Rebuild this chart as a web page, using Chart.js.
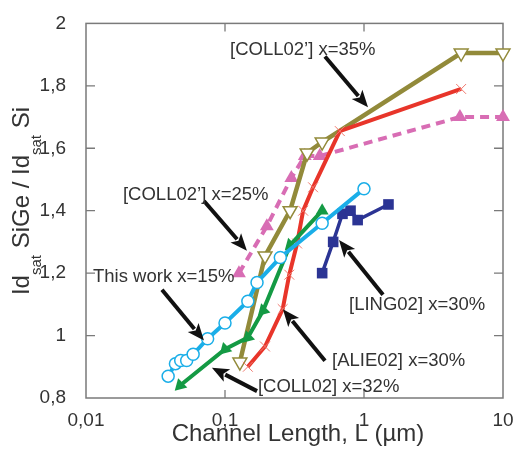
<!DOCTYPE html>
<html>
<head>
<meta charset="utf-8">
<script src="https://cdn.jsdelivr.net/npm/chart.js@4.4.1/dist/chart.umd.min.js"></script>
<style>
  body { margin: 0; background: #fff; }
  #wrap { width: 520px; height: 450px; }
</style>
</head>
<body>
<div id="wrap"><canvas id="chart" width="520" height="450"></canvas></div>
<script>
// ---- data (L in µm, ratio Idsat SiGe / Idsat Si) ----
const xTicks = [0.01, 0.1, 1, 10];
const xTickLabels = ['0,01', '0,1', '1', '10'];
const yTicks = [0.8, 1, 1.2, 1.4, 1.6, 1.8, 2];

const thisWorkL = [0.039, 0.044, 0.048, 0.053, 0.059, 0.075, 0.10, 0.146, 0.17, 0.25, 0.5, 1.0];
const thisWorkR = [0.87, 0.91, 0.92, 0.92, 0.94, 0.99, 1.04, 1.11, 1.17, 1.25, 1.36, 1.47];

const ling02L = [0.5, 0.6, 0.7, 0.8, 0.9, 1.5];
const ling02R = [1.20, 1.30, 1.39, 1.40, 1.37, 1.42];

const coll02L = [0.0475, 0.10, 0.146, 0.188, 0.294, 0.5];
const coll02R = [0.84, 0.956, 0.994, 1.08, 1.29, 1.40];

const alie02L = [0.146, 0.194, 0.26, 0.29, 0.33, 0.365, 0.43, 0.67, 5.0];
const alie02R = [0.90, 0.965, 1.085, 1.195, 1.295, 1.40, 1.475, 1.655, 1.79];

const coll35L = [0.128, 0.194, 0.294, 0.39, 0.5, 5.0, 10];
const coll35R = [0.915, 1.255, 1.40, 1.585, 1.62, 1.905, 1.905];

const coll25L = [0.126, 0.20, 0.30, 0.375, 0.48, 4.9, 10];
const coll25R = [1.20, 1.35, 1.505, 1.575, 1.575, 1.70, 1.70];

// labels: text, left x (L), baseline y (ratio)
const labelText = ["[COLL02’] x=35%", "[COLL02’] x=25%", "This work x=15%", "[COLL02] x=32%", "[ALIE02] x=30%", "[LING02] x=30%"];
const labelL = [0.1087, 0.01845, 0.01123, 0.1726, 0.589, 0.780];
const labelR = [1.90, 1.434, 1.172, 0.819, 0.903, 1.081];

// arrows: tail -> tip, in data units
const arrowFromL = [0.524, 0.0706, 0.0352, 0.170, 0.524, 1.37];
const arrowFromR = [1.894, 1.431, 1.147, 0.822, 0.919, 1.131];
const arrowToL = [1.069, 0.1438, 0.0706, 0.0805, 0.261, 0.661];
const arrowToR = [1.731, 1.272, 0.984, 0.897, 1.084, 1.306];

const FONT = "'Liberation Sans', Arial, Helvetica, sans-serif";
const TEXT_COLOR = '#333';

function pts(xs, ys) {
  return xs.map((x, i) => ({x: x, y: ys[i]}));
}

function fmt(v) {
  return String(+v.toFixed(2)).replace('.', ',');
}

function drawArrow(ctx, x1, y1, x2, y2) {
  const a = Math.atan2(y2 - y1, x2 - x1);
  const head = 17, half = 7;
  const bx = x2 - head * Math.cos(a), by = y2 - head * Math.sin(a);
  ctx.beginPath();
  ctx.moveTo(x1, y1);
  ctx.lineTo(bx + 2 * Math.cos(a), by + 2 * Math.sin(a));
  ctx.stroke();
  ctx.beginPath();
  ctx.moveTo(x2, y2);
  ctx.lineTo(bx + half * Math.sin(a), by - half * Math.cos(a));
  ctx.lineTo(bx + 4 * Math.cos(a), by + 4 * Math.sin(a));
  ctx.lineTo(bx - half * Math.sin(a), by + half * Math.cos(a));
  ctx.closePath();
  ctx.fill();
}

// box with inward ticks on all four sides
const framePlugin = {
  id: 'frame',
  beforeDatasetsDraw(chart) {
    const {ctx, chartArea: a, scales: {x, y}} = chart;
    ctx.save();
    ctx.strokeStyle = '#7a7a7a';
    ctx.lineWidth = 1.5;
    ctx.strokeRect(a.left, a.top, a.right - a.left, a.bottom - a.top);
    ctx.lineWidth = 1.3;
    ctx.beginPath();
    xTicks.forEach(v => {
      const px = x.getPixelForValue(v);
      if (px <= a.left + 1 || px >= a.right - 1) return;
      ctx.moveTo(px, a.bottom); ctx.lineTo(px, a.bottom - 8);
      ctx.moveTo(px, a.top); ctx.lineTo(px, a.top + 8);
    });
    yTicks.forEach(v => {
      const py = y.getPixelForValue(v);
      if (py <= a.top + 1 || py >= a.bottom - 1) return;
      ctx.moveTo(a.left, py); ctx.lineTo(a.left + 9, py);
      ctx.moveTo(a.right, py); ctx.lineTo(a.right - 9, py);
    });
    ctx.stroke();
    ctx.restore();
  }
};

// arrows, labels and axis titles
const notesPlugin = {
  id: 'notes',
  afterDatasetsDraw(chart) {
    const {ctx, scales: {x, y}} = chart;
    ctx.save();
    ctx.strokeStyle = '#111';
    ctx.fillStyle = '#111';
    ctx.lineWidth = 4;
    ctx.lineCap = 'butt';
    arrowFromL.forEach((l, i) => {
      drawArrow(ctx,
        x.getPixelForValue(l), y.getPixelForValue(arrowFromR[i]),
        x.getPixelForValue(arrowToL[i]), y.getPixelForValue(arrowToR[i]));
    });
    ctx.fillStyle = TEXT_COLOR;
    ctx.font = '18.5px ' + FONT;
    ctx.textAlign = 'left';
    ctx.textBaseline = 'alphabetic';
    labelText.forEach((t, i) => {
      ctx.fillText(t, x.getPixelForValue(labelL[i]), y.getPixelForValue(labelR[i]));
    });

    // x title
    ctx.font = '24px ' + FONT;
    ctx.textAlign = 'center';
    ctx.fillText('Channel Length, L (µm)', 298, 441);

    // y title with subscripts
    const parts = [['Id', 0], ['sat', 1], [' SiGe / Id', 0], ['sat', 1], [' Si', 0]];
    const big = '24px ' + FONT, small = '15px ' + FONT;
    let total = 0;
    parts.forEach(p => { ctx.font = p[1] ? small : big; total += ctx.measureText(p[0]).width; });
    ctx.translate(29, 201);
    ctx.rotate(-Math.PI / 2);
    ctx.textAlign = 'left';
    let cx = -total / 2;
    parts.forEach(p => {
      ctx.font = p[1] ? small : big;
      ctx.fillText(p[0], cx, p[1] ? 12 : 0);
      cx += ctx.measureText(p[0]).width;
    });
    ctx.restore();
  }
};

const greenRot = c => (c.dataIndex === coll02L.length - 1 ? 0 : 225);

new Chart(document.getElementById('chart'), {
  type: 'line',
  data: {
    datasets: [
      {
        label: 'This work x=15%', data: pts(thisWorkL, thisWorkR),
        borderColor: '#1aaee8', borderWidth: 4,
        pointStyle: 'circle', pointRadius: 6, pointBorderWidth: 1.5,
        pointBackgroundColor: '#fff', pointBorderColor: '#1aaee8'
      },
      {
        label: '[LING02] x=30%', data: pts(ling02L, ling02R),
        borderColor: '#2b3494', borderWidth: 3.5,
        pointStyle: 'rect', pointRadius: 7.5, pointBorderWidth: 0,
        pointBackgroundColor: '#2b3494'
      },
      {
        label: '[COLL02] x=32%', data: pts(coll02L, coll02R),
        borderColor: '#149a44', borderWidth: 4,
        pointStyle: 'triangle', pointRadius: 7.5, pointBorderWidth: 0,
        pointBackgroundColor: '#149a44', pointRotation: greenRot
      },
      {
        label: '[ALIE02] x=30%', data: pts(alie02L, alie02R),
        borderColor: '#e8352a', borderWidth: 4,
        pointStyle: 'crossRot', pointRadius: 7, pointBorderWidth: 1,
        pointBorderColor: '#f07a70'
      },
      {
        label: "[COLL02’] x=35%", data: pts(coll35L, coll35R),
        borderColor: '#928a3a', borderWidth: 4.5,
        pointStyle: 'triangle', pointRotation: 180, pointRadius: 8, pointBorderWidth: 1.5,
        pointBackgroundColor: '#fff', pointBorderColor: '#928a3a'
      },
      {
        label: "[COLL02’] x=25%", data: pts(coll25L, coll25R),
        borderColor: '#d86db4', borderWidth: 4, borderDash: [9, 6],
        pointStyle: 'triangle', pointRadius: 8, pointBorderWidth: 0,
        pointBackgroundColor: '#d86db4'
      }
    ]
  },
  options: {
    responsive: false,
    animation: false,
    layout: {padding: {top: 14, right: 17, left: 0, bottom: 0}},
    datasets: {line: {clip: false, fill: false, tension: 0}},
    plugins: {legend: {display: false}, tooltip: {enabled: false}},
    scales: {
      x: {
        type: 'logarithmic', min: 0.01, max: 10,
        afterBuildTicks: s => { s.ticks = xTicks.map(v => ({value: v})); },
        afterFit: s => { s.height = 52; },
        grid: {display: false}, border: {display: false},
        ticks: {
          autoSkip: false, maxRotation: 0, padding: 3,
          color: TEXT_COLOR, font: {family: FONT, size: 19},
          callback: v => xTickLabels[xTicks.indexOf(v)] || ''
        }
      },
      y: {
        type: 'linear', min: 0.8, max: 2,
        afterBuildTicks: s => { s.ticks = yTicks.map(v => ({value: v})); },
        afterFit: s => { s.width = 86; },
        grid: {display: false}, border: {display: false},
        ticks: {
          padding: 12, color: TEXT_COLOR, font: {family: FONT, size: 19},
          callback: v => fmt(v)
        }
      }
    }
  },
  plugins: [framePlugin, notesPlugin]
});
</script>
</body>
</html>
